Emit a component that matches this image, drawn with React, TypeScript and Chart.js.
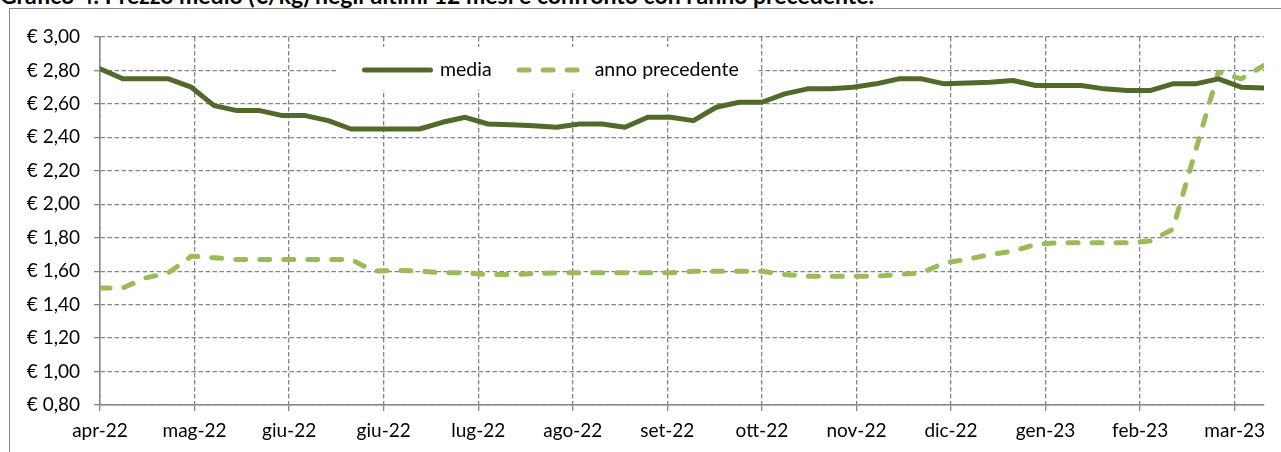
import React, { useEffect, useRef } from "react";
import { Chart, registerables } from "chart.js";

Chart.register(...registerables);

const titleText =
  "Grafico 4: Prezzo medio (€/kg) negli ultimi 12 mesi e confronto con l'anno precedente.";

const seriesLabels = ["media", "anno precedente"];

// weekly values, 52 weeks
const media = [
  2.81, 2.75, 2.75, 2.75, 2.7, 2.59, 2.56, 2.56, 2.53, 2.53, 2.5, 2.45, 2.45,
  2.45, 2.45, 2.49, 2.52, 2.48, 2.475, 2.47, 2.46, 2.48, 2.48, 2.46, 2.52, 2.52,
  2.5, 2.58, 2.61, 2.61, 2.66, 2.69, 2.69, 2.7, 2.72, 2.75, 2.75, 2.72, 2.725,
  2.73, 2.74, 2.71, 2.71, 2.71, 2.69, 2.68, 2.68, 2.72, 2.72, 2.75, 2.7, 2.695,
];

const annoPrecedente = [
  1.5, 1.5, 1.56, 1.59, 1.69, 1.68, 1.67, 1.67, 1.67, 1.67, 1.67, 1.67, 1.6,
  1.605, 1.6, 1.59, 1.59, 1.58, 1.58, 1.585, 1.59, 1.59, 1.59, 1.59, 1.59, 1.59,
  1.6, 1.6, 1.6, 1.6, 1.58, 1.57, 1.57, 1.57, 1.57, 1.58, 1.59, 1.65, 1.67, 1.7,
  1.72, 1.76, 1.77, 1.77, 1.77, 1.77, 1.78, 1.85, 2.32, 2.79, 2.75, 2.83,
];

const xTickLabels = [
  "apr-22", "mag-22", "giu-22", "giu-22", "lug-22", "ago-22", "set-22",
  "ott-22", "nov-22", "dic-22", "gen-23", "feb-23", "mar-23",
];

const yTickLabels = [
  "€ 0,80", "€ 1,00", "€ 1,20", "€ 1,40", "€ 1,60", "€ 1,80", "€ 2,00",
  "€ 2,20", "€ 2,40", "€ 2,60", "€ 2,80", "€ 3,00",
];

const DAYS_PER_POINT = 7;
const DAYS_PER_TICK = 29;
const FONT = "Lato";
const FONT_SIZE = 19;
const GRID = "#858585";

const insideLegend = {
  id: "insideLegend",
  beforeDatasetsDraw(chart: any) {
    const { ctx, chartArea } = chart;
    const boxL = chartArea.left + 237;
    const boxT = chartArea.top + 10;
    const boxW = 421;
    const boxH = 43;
    const cy = chartArea.top + 33;
    ctx.save();
    ctx.fillStyle = "#ffffff";
    ctx.fillRect(boxL, boxT, boxW, boxH);
    ctx.font = `${FONT_SIZE + 0.5}px ${FONT}`;
    ctx.textBaseline = "middle";
    ctx.textAlign = "left";
    let x = boxL + 25;
    chart.data.datasets.forEach((ds: any) => {
      ctx.save();
      ctx.strokeStyle = ds.borderColor;
      ctx.lineWidth = ds.borderWidth;
      ctx.lineCap = "round";
      ctx.setLineDash(ds.borderDash || []);
      ctx.beginPath();
      ctx.moveTo(x + 2.5, cy);
      ctx.lineTo(x + 68.5, cy);
      ctx.stroke();
      ctx.restore();
      ctx.fillStyle = "#000";
      const tx = x + 78;
      ctx.fillText(ds.label, tx, cy);
      x = tx + ctx.measureText(ds.label).width + 25;
    });
    ctx.restore();
  },
};

export default function App() {
  const canvasRef = useRef<HTMLCanvasElement | null>(null);

  useEffect(() => {
    if (!canvasRef.current) return;
    Chart.defaults.font.family = FONT;
    Chart.defaults.font.size = FONT_SIZE;
    Chart.defaults.color = "#000";
    const chart = new Chart(canvasRef.current, {
      type: "line",
      data: {
        datasets: [
          {
            label: seriesLabels[0],
            data: media.map((v, i) => ({ x: i * DAYS_PER_POINT, y: v })),
            borderColor: "#526A29",
            backgroundColor: "#526A29",
            borderWidth: 5,
            pointRadius: 0,
            tension: 0,
            borderJoinStyle: "round",
            borderCapStyle: "round",
          },
          {
            label: seriesLabels[1],
            data: annoPrecedente.map((v, i) => ({ x: i * DAYS_PER_POINT, y: v })),
            borderColor: "#9BBB59",
            backgroundColor: "#9BBB59",
            borderWidth: 5,
            borderDash: [10, 14],
            pointRadius: 0,
            tension: 0,
            borderJoinStyle: "round",
            borderCapStyle: "round",
          },
        ],
      },
      options: {
        animation: false,
        responsive: true,
        maintainAspectRatio: false,
        layout: { padding: { left: 0, top: 37, right: 17, bottom: 0 } },
        plugins: {
          legend: { display: false },
          tooltip: { enabled: false },
          title: { display: false },
        },
        scales: {
          x: {
            type: "linear",
            min: 0,
            max: (media.length - 1) * DAYS_PER_POINT,
            afterFit: (scale: any) => {
              scale.height = 47;
            },
            afterBuildTicks: (scale: any) => {
              scale.ticks = xTickLabels.map((_, k) => ({ value: k * DAYS_PER_TICK }));
            },
            ticks: {
              autoSkip: false,
              maxRotation: 0,
              padding: 8,
              color: "#000",
              callback: (_v: any, index: number) => xTickLabels[index],
            },
            grid: {
              color: GRID,
              lineWidth: 1.3,
              drawTicks: true,
              tickLength: 6,
              tickColor: GRID,
              tickWidth: 1.3,
            },
            border: { display: true, color: GRID, width: 1.5, dash: [4.5, 2.5] },
          },
          y: {
            type: "linear",
            min: 0.8,
            max: 3.0,
            afterFit: (scale: any) => {
              scale.width = 100;
            },
            afterBuildTicks: (scale: any) => {
              scale.ticks = yTickLabels.map((_, k) => ({ value: 0.8 + k * 0.2 }));
            },
            ticks: {
              padding: 14,
              color: "#000",
              callback: (_v: any, index: number) => yTickLabels[index],
            },
            grid: {
              color: GRID,
              lineWidth: 1.3,
              drawTicks: true,
              tickLength: 6,
              tickColor: GRID,
              tickWidth: 1.3,
            },
            border: { display: true, color: GRID, width: 1.5, dash: [4.5, 2.5] },
          },
        },
      },
      plugins: [insideLegend],
    });
    return () => chart.destroy();
  }, []);

  return (
    <div
      style={{
        position: "absolute",
        left: 0,
        top: 0,
        width: 1281,
        height: 452,
        overflow: "hidden",
        background: "#fff",
      }}
    >
      <div
        style={{
          position: "absolute",
          left: 0,
          top: -16,
          fontFamily: FONT,
          fontWeight: 700,
          fontSize: 23,
          lineHeight: "23px",
          whiteSpace: "nowrap",
          color: "#000",
        }}
      >
        {titleText}
      </div>
      <div
        style={{
          position: "absolute",
          left: 9,
          top: 8,
          width: 1400,
          height: 600,
          border: "1px solid #8a8a8a",
          boxSizing: "border-box",
        }}
      />
      <div style={{ position: "absolute", left: 0, top: 0, width: 1281, height: 452 }}>
        <canvas ref={canvasRef} />
      </div>
    </div>
  );
}
